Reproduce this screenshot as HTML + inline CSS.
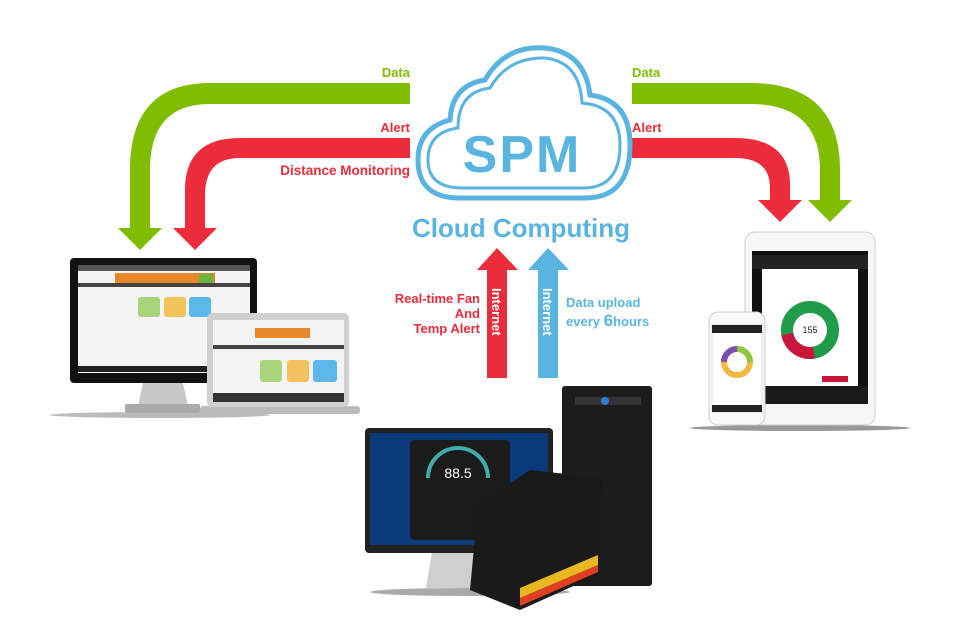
<!DOCTYPE html>
<html><head><meta charset="utf-8"><style>
html,body{margin:0;padding:0;background:#fff;}
svg{display:block;font-family:"Liberation Sans",Arial,sans-serif;font-weight:bold;}
</style></head><body>
<svg width="960" height="636" viewBox="0 0 960 636" xmlns="http://www.w3.org/2000/svg">
<!-- Left arrows -->
<path d="M410 83 H210 Q130 83 130 170 V228 H118 L140 250 L162 228 H150 V170 Q150 104 210 104 H410 Z" fill="#80bc00"/>
<path d="M410 138 H240 Q185 138 185 190 V228 H173 L195 250 L217 228 H205 V195 Q205 158 240 158 H410 Z" fill="#ec2c3a"/>
<!-- Right arrows -->
<path d="M632 83 H750 Q840 83 840 170 V200 H852 L830 222 L808 200 H820 V170 Q820 104 750 104 H632 Z" fill="#80bc00"/>
<path d="M632 138 H735 Q790 138 790 185 V200 H802 L780 222 L758 200 H770 V188 Q770 158 735 158 H632 Z" fill="#ec2c3a"/>
<text x="410" y="77" fill="#80bc00" font-size="13" text-anchor="end">Data</text>
<text x="410" y="132" fill="#ec2c3a" font-size="13" text-anchor="end">Alert</text>
<text x="410" y="175" fill="#ec2c3a" font-size="13.5" text-anchor="end">Distance Monitoring</text>
<text x="632" y="77" fill="#80bc00" font-size="13">Data</text>
<text x="632" y="132" fill="#ec2c3a" font-size="13">Alert</text>
<!-- Cloud -->
<g fill="#fff" stroke="#5ab4e0" stroke-width="5">
<path d="M460 198 Q418 198 418 160 Q418 128 450 120 Q452 85 485 80 Q505 45 545 48 Q585 52 590 95 Q630 100 630 145 Q630 198 585 198 Z"/>
<path d="M463 188 Q428 188 428 160 Q428 132 458 128 Q458 92 490 88 Q508 57 545 58 Q580 62 582 103 Q620 106 620 145 Q620 188 583 188 Z" stroke-width="3"/>
</g>
<text x="522" y="172" fill="#5ab4e0" font-size="52" text-anchor="middle" letter-spacing="2">SPM</text>
<text x="521" y="237" fill="#5ab4e0" font-size="26" text-anchor="middle">Cloud Computing</text>
<!-- up arrows -->
<path d="M487 378 V270 H477 L497 248 L518 270 H507 V378 Z" fill="#ec2c3a"/>
<path d="M538 378 V270 H528 L548 248 L569 270 H558 V378 Z" fill="#5ab4e0"/>
<text transform="translate(492,288) rotate(90)" fill="#fff" font-size="13">Internet</text>
<text transform="translate(543,288) rotate(90)" fill="#fff" font-size="13">Internet</text>
<g fill="#ec2c3a" font-size="13" text-anchor="end">
<text x="480" y="303">Real-time Fan</text><text x="480" y="318">And</text><text x="480" y="333">Temp Alert</text></g>
<g fill="#5ab4e0" font-size="13"><text x="566" y="307">Data upload</text><text x="566" y="326">every <tspan font-size="17">6</tspan>hours</text></g>
<!-- left monitor -->
<ellipse cx="160" cy="415" rx="110" ry="3" fill="#bbb"/>
<path d="M143 383 H183 L188 406 H138 Z" fill="#c8c8c8"/>
<rect x="125" y="404" width="75" height="9" rx="2" fill="#aaa"/>
<rect x="70" y="258" width="187" height="125" rx="4" fill="#111"/>
<rect x="78" y="265" width="172" height="108" fill="#f4f4f4"/>
<rect x="78" y="265" width="172" height="6" fill="#555"/>
<rect x="115" y="273" width="100" height="10" fill="#e8882a"/>
<rect x="199" y="274" width="14" height="10" fill="#6cb33f"/>
<rect x="78" y="283" width="172" height="4" fill="#444"/>
<rect x="138" y="297" width="22" height="20" rx="3" fill="#a8d57a"/>
<rect x="164" y="297" width="22" height="20" rx="3" fill="#f2c35c"/>
<rect x="189" y="297" width="22" height="20" rx="3" fill="#5cb8e8"/>
<rect x="78" y="366" width="172" height="6" fill="#222"/>
<!-- laptop -->
<rect x="200" y="406" width="160" height="8" rx="3" fill="#bbb"/>
<rect x="207" y="313" width="142" height="94" rx="5" fill="#d0d0d0"/>
<rect x="213" y="320" width="131" height="82" fill="#f3f3f3"/>
<rect x="255" y="328" width="55" height="10" fill="#e8882a"/>
<rect x="213" y="345" width="131" height="4" fill="#444"/>
<rect x="260" y="360" width="22" height="22" rx="3" fill="#a8d57a"/>
<rect x="287" y="360" width="22" height="22" rx="3" fill="#f2c35c"/>
<rect x="313" y="360" width="24" height="22" rx="3" fill="#5cb8e8"/>
<rect x="213" y="393" width="131" height="9" fill="#333"/>
<!-- tablet -->
<ellipse cx="800" cy="428" rx="110" ry="3" fill="#999"/>
<rect x="745" y="232" width="130" height="193" rx="10" fill="#f6f6f6" stroke="#ccc"/>
<rect x="752" y="251" width="116" height="153" fill="#111"/>
<rect x="762" y="265" width="96" height="125" fill="#fff"/>
<rect x="752" y="255" width="116" height="14" fill="#222"/>
<circle cx="810" cy="330" r="23" fill="none" stroke="#1f9b4a" stroke-width="12"/>
<path d="M787 330 A23 23 0 0 1 810 307" fill="none" stroke="#c8173a" stroke-width="12" transform="rotate(-100 810 330)"/>
<text x="810" y="333" fill="#222" font-size="9" font-weight="normal" text-anchor="middle">155</text>
<rect x="822" y="376" width="26" height="6" fill="#c8173a"/>
<rect x="752" y="386" width="116" height="18" fill="#1a1a1a"/>
<!-- phone -->
<rect x="709" y="312" width="56" height="113" rx="9" fill="#f8f8f8" stroke="#ccc"/>
<rect x="712" y="325" width="50" height="87" fill="#fff" stroke="#ddd"/>
<rect x="712" y="325" width="50" height="8" fill="#222"/>
<circle cx="737" cy="362" r="13" fill="none" stroke="#f0b840" stroke-width="6"/>
<path d="M724 362 A13 13 0 0 1 737 349" fill="none" stroke="#7a4fb0" stroke-width="6"/>
<path d="M737 349 A13 13 0 0 1 750 362" fill="none" stroke="#8cc63f" stroke-width="6"/>
<rect x="712" y="405" width="50" height="7" fill="#222"/>
<!-- bottom monitor -->
<ellipse cx="470" cy="592" rx="100" ry="4" fill="#aaa"/>
<path d="M432 552 H478 L485 588 H426 Z" fill="#cfcfcf"/>
<rect x="365" y="428" width="188" height="125" rx="4" fill="#222"/>
<rect x="370" y="433" width="178" height="112" fill="#0b3a7a"/>
<rect x="410" y="440" width="100" height="100" rx="4" fill="#1b1b1b"/>
<text x="458" y="478" fill="#fff" font-size="14" font-weight="normal" text-anchor="middle">88.5</text>
<path d="M428 478 A30 30 0 0 1 488 478" fill="none" stroke="#4aa" stroke-width="4"/>
<!-- tower -->
<rect x="562" y="386" width="90" height="200" rx="3" fill="#1c1c1c"/>
<rect x="575" y="397" width="66" height="8" fill="#333"/>
<circle cx="605" cy="401" r="4" fill="#2a7fd0"/>
<!-- PSU -->
<path d="M478 505 L530 470 L602 478 L598 575 L520 610 L470 590 Z" fill="#1a1a1a"/>
<path d="M520 588 L598 555 L598 565 L520 598 Z" fill="#e8b820"/>
<path d="M520 598 L598 565 L598 572 L520 606 Z" fill="#e04020"/>
</svg>
</body></html>
